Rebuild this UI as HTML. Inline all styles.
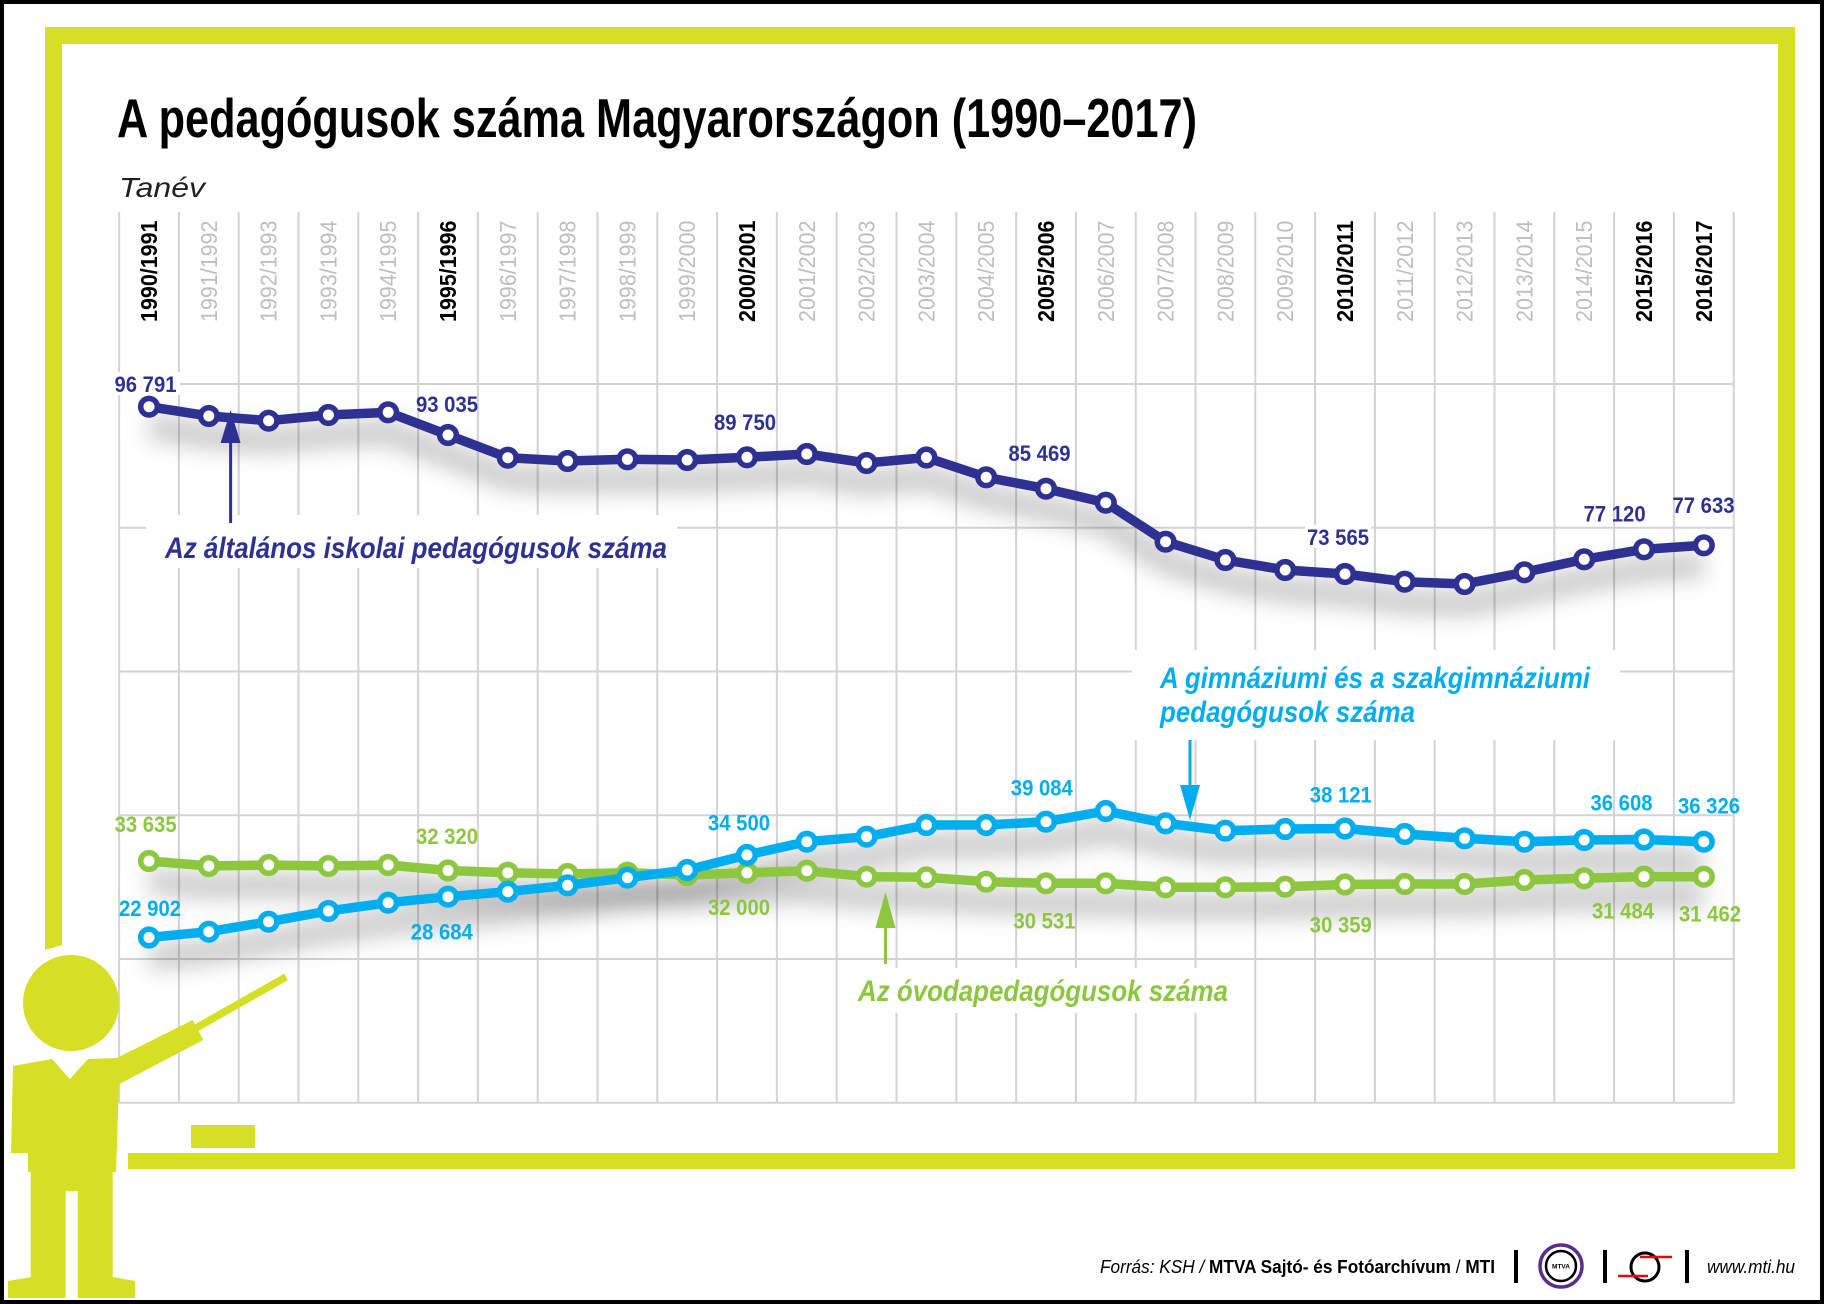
<!DOCTYPE html>
<html><head><meta charset="utf-8">
<style>
html,body{margin:0;padding:0;background:#fff;}
svg{display:block;}
text{font-family:"Liberation Sans",Arial,sans-serif;}
</style></head>
<body>
<svg width="1824" height="1304" viewBox="0 0 1824 1304" xmlns="http://www.w3.org/2000/svg">
<defs>
<filter id="sh" filterUnits="userSpaceOnUse" x="0" y="0" width="1824" height="1304">
<feGaussianBlur stdDeviation="11"/>
</filter>
<marker id="mN" markerWidth="30" markerHeight="30" refX="15" refY="15" markerUnits="userSpaceOnUse"><circle cx="15" cy="15" r="8.3" fill="#fff" stroke="#2e3192" stroke-width="5.6"/></marker>
<marker id="mC" markerWidth="30" markerHeight="30" refX="15" refY="15" markerUnits="userSpaceOnUse"><circle cx="15" cy="15" r="8.3" fill="#fff" stroke="#00aeef" stroke-width="5.6"/></marker>
<marker id="mG" markerWidth="30" markerHeight="30" refX="15" refY="15" markerUnits="userSpaceOnUse"><circle cx="15" cy="15" r="8.3" fill="#fff" stroke="#8dc63f" stroke-width="5.6"/></marker>
</defs>

<rect x="0" y="0" width="1824" height="1304" fill="#fff"/>

<!-- grid -->
<g stroke="#d2d3d5" stroke-width="2">
<path d="M119.1 211.7V1103M178.9 211.7V1103M238.7 211.7V1103M298.5 211.7V1103M358.3 211.7V1103M418.1 211.7V1103M477.9 211.7V1103M537.7 211.7V1103M597.5 211.7V1103M657.3 211.7V1103M717.1 211.7V1103M776.9 211.7V1103M836.7 211.7V1103M896.5 211.7V1103M956.3 211.7V1103M1016.1 211.7V1103M1075.9 211.7V1103M1135.7 211.7V1103M1195.5 211.7V1103M1255.3 211.7V1103M1315.1 211.7V1103M1374.9 211.7V1103M1434.7 211.7V1103M1494.5 211.7V1103M1554.3 211.7V1103M1614.1 211.7V1103M1673.9 211.7V1103M1733.7 211.7V1103"/>
<path d="M119 384H1734.7M119 527.8H1734.7M119 671.5H1734.7M119 815.3H1734.7M119 959H1734.7M119 1102.8H1734.7"/>
</g>

<!-- annotation white boxes -->
<rect x="146" y="515" width="531" height="53" fill="#fff"/>
<rect x="1132" y="650" width="488" height="90" fill="#fff"/>
<rect x="850" y="968" width="385" height="45" fill="#fff"/>

<!-- year labels -->
<g font-size="23">
<text transform="translate(157,322) rotate(-90)" font-weight="bold" fill="#000" textLength="101.5" lengthAdjust="spacingAndGlyphs">1990/1991</text>
<text transform="translate(216.8,322) rotate(-90)" fill="#bcbec0" textLength="101.5" lengthAdjust="spacingAndGlyphs">1991/1992</text>
<text transform="translate(276.6,322) rotate(-90)" fill="#bcbec0" textLength="101.5" lengthAdjust="spacingAndGlyphs">1992/1993</text>
<text transform="translate(336.4,322) rotate(-90)" fill="#bcbec0" textLength="101.5" lengthAdjust="spacingAndGlyphs">1993/1994</text>
<text transform="translate(396.2,322) rotate(-90)" fill="#bcbec0" textLength="101.5" lengthAdjust="spacingAndGlyphs">1994/1995</text>
<text transform="translate(456,322) rotate(-90)" font-weight="bold" fill="#000" textLength="101.5" lengthAdjust="spacingAndGlyphs">1995/1996</text>
<text transform="translate(515.8,322) rotate(-90)" fill="#bcbec0" textLength="101.5" lengthAdjust="spacingAndGlyphs">1996/1997</text>
<text transform="translate(575.6,322) rotate(-90)" fill="#bcbec0" textLength="101.5" lengthAdjust="spacingAndGlyphs">1997/1998</text>
<text transform="translate(635.4,322) rotate(-90)" fill="#bcbec0" textLength="101.5" lengthAdjust="spacingAndGlyphs">1998/1999</text>
<text transform="translate(695.2,322) rotate(-90)" fill="#bcbec0" textLength="101.5" lengthAdjust="spacingAndGlyphs">1999/2000</text>
<text transform="translate(755,322) rotate(-90)" font-weight="bold" fill="#000" textLength="101.5" lengthAdjust="spacingAndGlyphs">2000/2001</text>
<text transform="translate(814.8,322) rotate(-90)" fill="#bcbec0" textLength="101.5" lengthAdjust="spacingAndGlyphs">2001/2002</text>
<text transform="translate(874.6,322) rotate(-90)" fill="#bcbec0" textLength="101.5" lengthAdjust="spacingAndGlyphs">2002/2003</text>
<text transform="translate(934.4,322) rotate(-90)" fill="#bcbec0" textLength="101.5" lengthAdjust="spacingAndGlyphs">2003/2004</text>
<text transform="translate(994.2,322) rotate(-90)" fill="#bcbec0" textLength="101.5" lengthAdjust="spacingAndGlyphs">2004/2005</text>
<text transform="translate(1054,322) rotate(-90)" font-weight="bold" fill="#000" textLength="101.5" lengthAdjust="spacingAndGlyphs">2005/2006</text>
<text transform="translate(1113.8,322) rotate(-90)" fill="#bcbec0" textLength="101.5" lengthAdjust="spacingAndGlyphs">2006/2007</text>
<text transform="translate(1173.6,322) rotate(-90)" fill="#bcbec0" textLength="101.5" lengthAdjust="spacingAndGlyphs">2007/2008</text>
<text transform="translate(1233.4,322) rotate(-90)" fill="#bcbec0" textLength="101.5" lengthAdjust="spacingAndGlyphs">2008/2009</text>
<text transform="translate(1293.2,322) rotate(-90)" fill="#bcbec0" textLength="101.5" lengthAdjust="spacingAndGlyphs">2009/2010</text>
<text transform="translate(1353,322) rotate(-90)" font-weight="bold" fill="#000" textLength="101.5" lengthAdjust="spacingAndGlyphs">2010/2011</text>
<text transform="translate(1412.8,322) rotate(-90)" fill="#bcbec0" textLength="101.5" lengthAdjust="spacingAndGlyphs">2011/2012</text>
<text transform="translate(1472.6,322) rotate(-90)" fill="#bcbec0" textLength="101.5" lengthAdjust="spacingAndGlyphs">2012/2013</text>
<text transform="translate(1532.4,322) rotate(-90)" fill="#bcbec0" textLength="101.5" lengthAdjust="spacingAndGlyphs">2013/2014</text>
<text transform="translate(1592.2,322) rotate(-90)" fill="#bcbec0" textLength="101.5" lengthAdjust="spacingAndGlyphs">2014/2015</text>
<text transform="translate(1652,322) rotate(-90)" font-weight="bold" fill="#000" textLength="101.5" lengthAdjust="spacingAndGlyphs">2015/2016</text>
<text transform="translate(1711.8,322) rotate(-90)" font-weight="bold" fill="#000" textLength="101.5" lengthAdjust="spacingAndGlyphs">2016/2017</text>
</g>

<!-- shadows -->
<g filter="url(#sh)" transform="translate(0,20)" fill="none" stroke="#000" stroke-opacity="0.2" stroke-width="26" stroke-linejoin="round">
<polyline points="149,406.7 208.8,416 268.6,420.7 328.4,415 388.2,412.3 448,435 507.8,457.7 567.6,461 627.4,459.3 687.2,460 747,457.3 806.8,454 866.6,463 926.4,457.5 986.2,477.3 1046,488.7 1105.8,502.7 1165.6,541.7 1225.4,560 1285.2,570 1345,574 1404.8,581.7 1464.6,584 1524.4,572.3 1584.2,559.3 1644,549.3 1703.8,545.3"/>
<polyline points="149,937.5 208.8,931.7 268.6,921.7 328.4,911 388.2,902.7 448,896.7 507.8,891.7 567.6,885.3 627.4,877.7 687.2,870 747,855 806.8,841.7 866.6,836.7 926.4,825 986.2,825 1046,821.7 1105.8,811 1165.6,823.3 1225.4,830.7 1285.2,829 1345,828.5 1404.8,834 1464.6,838.3 1524.4,841.7 1584.2,840 1644,839.5 1703.8,841.7"/>
<polyline points="149,861 208.8,866 268.6,865 328.4,866 388.2,865 448,870.5 507.8,872.7 567.6,874 627.4,872.7 687.2,875 747,872.8 806.8,870.7 866.6,876.7 926.4,877.3 986.2,881.7 1046,883.3 1105.8,883.3 1165.6,887.3 1225.4,887.3 1285.2,886.7 1345,884.5 1404.8,884 1464.6,884 1524.4,880 1584.2,878.3 1644,876.6 1703.8,876.7"/>
</g>

<!-- series -->
<polyline fill="none" stroke="#8dc63f" stroke-width="9.5" stroke-linejoin="round" marker-start="url(#mG)" marker-mid="url(#mG)" marker-end="url(#mG)" points="149,861 208.8,866 268.6,865 328.4,866 388.2,865 448,870.5 507.8,872.7 567.6,874 627.4,872.7 687.2,875 747,872.8 806.8,870.7 866.6,876.7 926.4,877.3 986.2,881.7 1046,883.3 1105.8,883.3 1165.6,887.3 1225.4,887.3 1285.2,886.7 1345,884.5 1404.8,884 1464.6,884 1524.4,880 1584.2,878.3 1644,876.6 1703.8,876.7"/>
<polyline fill="none" stroke="#00aeef" stroke-width="9.5" stroke-linejoin="round" marker-start="url(#mC)" marker-mid="url(#mC)" marker-end="url(#mC)" points="149,937.5 208.8,931.7 268.6,921.7 328.4,911 388.2,902.7 448,896.7 507.8,891.7 567.6,885.3 627.4,877.7 687.2,870 747,855 806.8,841.7 866.6,836.7 926.4,825 986.2,825 1046,821.7 1105.8,811 1165.6,823.3 1225.4,830.7 1285.2,829 1345,828.5 1404.8,834 1464.6,838.3 1524.4,841.7 1584.2,840 1644,839.5 1703.8,841.7"/>
<polyline fill="none" stroke="#2e3192" stroke-width="9.5" stroke-linejoin="round" marker-start="url(#mN)" marker-mid="url(#mN)" marker-end="url(#mN)" points="149,406.7 208.8,416 268.6,420.7 328.4,415 388.2,412.3 448,435 507.8,457.7 567.6,461 627.4,459.3 687.2,460 747,457.3 806.8,454 866.6,463 926.4,457.5 986.2,477.3 1046,488.7 1105.8,502.7 1165.6,541.7 1225.4,560 1285.2,570 1345,574 1404.8,581.7 1464.6,584 1524.4,572.3 1584.2,559.3 1644,549.3 1703.8,545.3"/>

<!-- label backgrounds -->
<rect x="112" y="372" width="68" height="23" fill="#fff"/>
<rect x="1305" y="525" width="66" height="23" fill="#fff"/>

<!-- data labels -->
<g font-size="22" font-weight="bold" text-anchor="middle">
<g fill="#2e3192">
<text x="145.5" y="392" textLength="62" lengthAdjust="spacingAndGlyphs">96 791</text>
<text x="447" y="412" textLength="62" lengthAdjust="spacingAndGlyphs">93 035</text>
<text x="745" y="430" textLength="62" lengthAdjust="spacingAndGlyphs">89 750</text>
<text x="1039.5" y="461" textLength="62" lengthAdjust="spacingAndGlyphs">85 469</text>
<text x="1338" y="545" textLength="62" lengthAdjust="spacingAndGlyphs">73 565</text>
<text x="1614.6" y="521.7" textLength="62" lengthAdjust="spacingAndGlyphs">77 120</text>
<text x="1703.5" y="513" textLength="62" lengthAdjust="spacingAndGlyphs">77 633</text>
</g>
<g fill="#00aeef">
<text x="150" y="916" textLength="62" lengthAdjust="spacingAndGlyphs">22 902</text>
<text x="441.8" y="939.3" textLength="62" lengthAdjust="spacingAndGlyphs">28 684</text>
<text x="739" y="830.7" textLength="62" lengthAdjust="spacingAndGlyphs">34 500</text>
<text x="1041.8" y="795.7" textLength="62" lengthAdjust="spacingAndGlyphs">39 084</text>
<text x="1340.8" y="802.7" textLength="62" lengthAdjust="spacingAndGlyphs">38 121</text>
<text x="1621.5" y="810.7" textLength="62" lengthAdjust="spacingAndGlyphs">36 608</text>
<text x="1709" y="813.3" textLength="62" lengthAdjust="spacingAndGlyphs">36 326</text>
</g>
<g fill="#8dc63f">
<text x="145.6" y="832" textLength="62" lengthAdjust="spacingAndGlyphs">33 635</text>
<text x="447" y="844" textLength="62" lengthAdjust="spacingAndGlyphs">32 320</text>
<text x="739" y="915" textLength="62" lengthAdjust="spacingAndGlyphs">32 000</text>
<text x="1044.5" y="928.3" textLength="62" lengthAdjust="spacingAndGlyphs">30 531</text>
<text x="1340.8" y="932.7" textLength="62" lengthAdjust="spacingAndGlyphs">30 359</text>
<text x="1623" y="918.3" textLength="62" lengthAdjust="spacingAndGlyphs">31 484</text>
<text x="1710" y="921.7" textLength="62" lengthAdjust="spacingAndGlyphs">31 462</text>
</g>
</g>

<!-- annotations -->
<g font-size="30" font-weight="bold" font-style="italic">
<text x="165" y="558" fill="#2e3192" textLength="502" lengthAdjust="spacingAndGlyphs">Az általános iskolai pedagógusok száma</text>
<text x="1160" y="688" fill="#00aeef" textLength="430" lengthAdjust="spacingAndGlyphs">A gimnáziumi és a szakgimnáziumi</text>
<text x="1160" y="722" fill="#00aeef" textLength="255" lengthAdjust="spacingAndGlyphs">pedagógusok száma</text>
<text x="858" y="1001" fill="#8dc63f" textLength="370" lengthAdjust="spacingAndGlyphs">Az óvodapedagógusok száma</text>
</g>

<!-- arrows -->
<line x1="230.6" y1="523" x2="230.6" y2="438" stroke="#2e3192" stroke-width="3"/>
<polygon points="230.6,410 220.6,443 240.6,443" fill="#2e3192"/>
<line x1="1190" y1="740" x2="1190" y2="790" stroke="#00aeef" stroke-width="3"/>
<polygon points="1190,820 1180,785 1200,785" fill="#00aeef"/>
<line x1="885.5" y1="964" x2="885.5" y2="920" stroke="#8dc63f" stroke-width="3"/>
<polygon points="885.5,892 875.5,928 895.5,928" fill="#8dc63f"/>

<!-- title -->
<text x="117" y="137" font-size="55" font-weight="bold" fill="#000" textLength="1080" lengthAdjust="spacingAndGlyphs">A pedagógusok száma Magyarországon (1990–2017)</text>
<text x="119" y="197" font-size="28" font-style="italic" fill="#231f20" textLength="86" lengthAdjust="spacingAndGlyphs">Tanév</text>

<!-- green frame -->
<g fill="#d5df24">
<rect x="45" y="27" width="1750" height="17"/>
<rect x="1778" y="27" width="17" height="1142"/>
<polygon points="45,27 62,27 62,945 45,950"/>
<rect x="128" y="1153" width="1667" height="16"/>
<rect x="191" y="1125" width="64" height="23"/>
<!-- person -->
<circle cx="71" cy="1003" r="48"/>
<polygon points="13,1066 52,1059 70,1079 88,1059 118,1058 119,1084 116,1172 112.7,1172 112.7,1298 77.7,1298 77.7,1191 65.7,1191 65.7,1298 30.7,1298 30.7,1172 28,1172 28,1153 11,1153"/>
<polygon points="116.7,1058 192.7,1020 203.3,1040 119.3,1084"/>
<polygon points="8,1281 31,1277 43,1277 43,1298 8,1298"/>
<polygon points="100,1277 113,1277 135,1281 135,1298 100,1298"/>
</g>
<line x1="196" y1="1028" x2="286" y2="977" stroke="#d5df24" stroke-width="7.5"/>

<!-- footer -->
<text x="1100" y="1273" font-size="18" fill="#000" textLength="395" lengthAdjust="spacingAndGlyphs"><tspan font-style="italic">Forrás: KSH / </tspan><tspan font-weight="bold">MTVA Sajtó- és Fotóarchívum</tspan><tspan> / </tspan><tspan font-weight="bold">MTI</tspan></text>
<rect x="1514" y="1250" width="4" height="33" fill="#000"/>
<rect x="1603" y="1250" width="4" height="33" fill="#000"/>
<rect x="1685" y="1250" width="4" height="33" fill="#000"/>
<circle cx="1561" cy="1266" r="21" fill="none" stroke="#5c2d91" stroke-width="3.5"/>
<circle cx="1561" cy="1266" r="15" fill="none" stroke="#000" stroke-width="2.5"/>
<text x="1561" y="1268.5" font-size="6.5" font-weight="bold" text-anchor="middle" fill="#000">MTVA</text>
<circle cx="1645" cy="1267" r="14" fill="none" stroke="#000" stroke-width="3"/>
<line x1="1640" y1="1257" x2="1672" y2="1257" stroke="#e30613" stroke-width="2.5"/>
<line x1="1618" y1="1276" x2="1648" y2="1276" stroke="#e30613" stroke-width="2.5"/>
<text x="1707" y="1273" font-size="18" font-style="italic" fill="#000" textLength="88" lengthAdjust="spacingAndGlyphs">www.mti.hu</text>

<!-- outer black border -->
<rect x="2" y="2" width="1820" height="1300" fill="none" stroke="#000" stroke-width="4"/>
</svg>
</body></html>
